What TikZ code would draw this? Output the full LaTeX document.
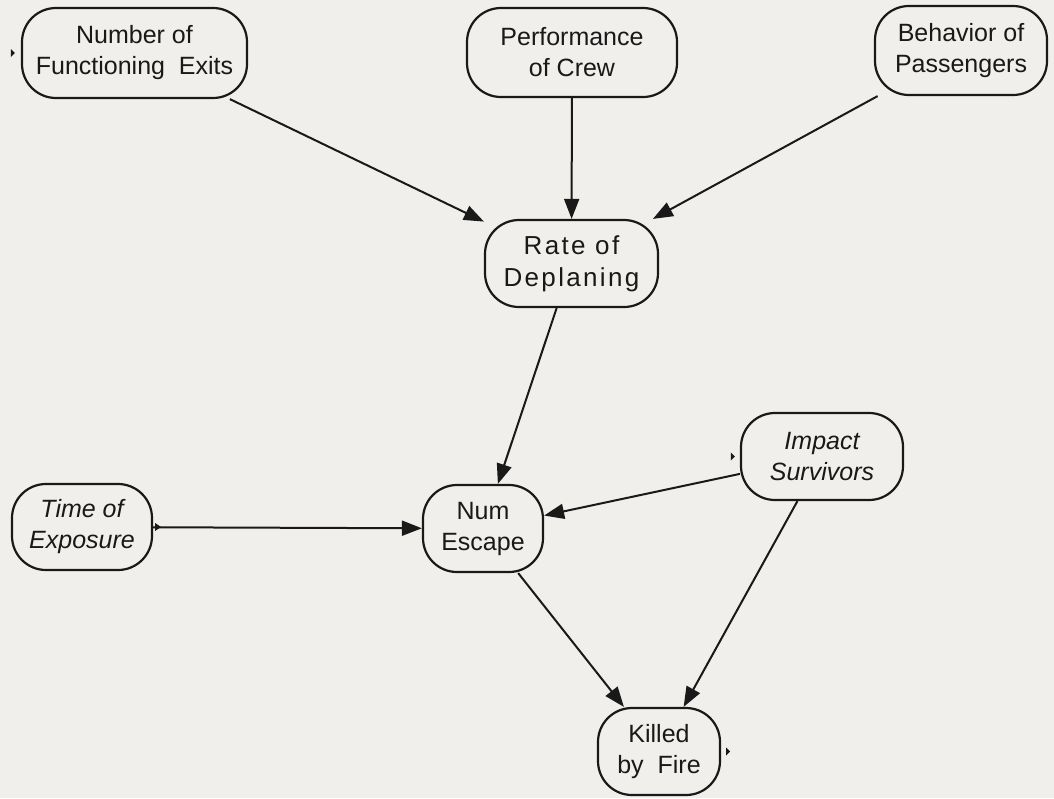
\documentclass[tikz,border=0pt]{standalone}
\usepackage{fontspec}
\setmainfont{Liberation Sans}
\newfontfamily\spacedfont[LetterSpace=9]{Liberation Sans}
\usetikzlibrary{arrows.meta}
\definecolor{paper}{RGB}{240,239,235}
\definecolor{ink}{RGB}{25,25,25}
\begin{document}
\begin{tikzpicture}[x=1pt,y=-1pt,
  label font/.style={font=\fontsize{25}{31}\selectfont},
  var/.style={draw=ink, text=ink, line width=2.2pt, rounded corners=34pt,
              align=center, inner sep=0pt, label font},
  chance/.style={var, font=\fontsize{25}{31}\selectfont\itshape},
  link/.style={draw=ink, line width=2pt, -{Triangle[length=20pt,width=15pt]}},
  portmark/.style={fill=ink}]
\fill[paper] (0,0) rectangle (1054,798);
\useasboundingbox (0,0) rectangle (1054,798);

% variables
\node[var, minimum width=225pt, minimum height=90pt] (nfe) at (134.5,53)
  {Number of\\Functioning\ \ Exits};
\node[var, minimum width=210pt, minimum height=89pt] (crew) at (572,52.5)
  {Performance\\of Crew};
\node[var, minimum width=172pt, minimum height=89pt] (pass) at (961,50.5)
  {Behavior of\\Passengers};
\node[var, minimum width=173pt, minimum height=87pt,
      font=\fontsize{26}{32}\spacedfont] (rate) at (571.5,263.5)
  {Rate of\\Deplaning};
\node[chance, minimum width=140pt, minimum height=86pt] (time) at (82,527)
  {Time of\\Exposure};
\node[var, minimum width=120pt, minimum height=87pt] (esc) at (483,528.5)
  {Num\\Escape};
\node[chance, minimum width=162pt, minimum height=87pt] (imp) at (822,456.5)
  {Impact\\Survivors};
\node[var, minimum width=122pt, minimum height=87pt] (kill) at (659,751.5)
  {Killed\\by\ \ Fire};

% influences
\draw[link] (nfe) -- (rate);
\draw[link] (crew) -- (rate);
\draw[link] (pass) -- (rate);
\draw[link] (rate) -- (esc);
\draw[link] (time) -- (esc);
\draw[link] (imp) -- (esc);
\draw[link] (esc) -- (kill);
\draw[link] (imp) -- (kill);

% small port marks
\fill[portmark] (nfe.west) ++(-10,-4) -- ++(4,4) -- ++(-4,4) -- cycle;
\fill[portmark] (imp.west) ++(-9,-4) -- ++(4,4) -- ++(-4,4) -- cycle;
\fill[portmark] (kill.east) ++(5,-4) -- ++(4,4) -- ++(-4,4) -- cycle;
\fill[portmark] (time.east) ++(2,-4) -- ++(6,4) -- ++(-6,4) -- cycle;
\end{tikzpicture}
\end{document}
